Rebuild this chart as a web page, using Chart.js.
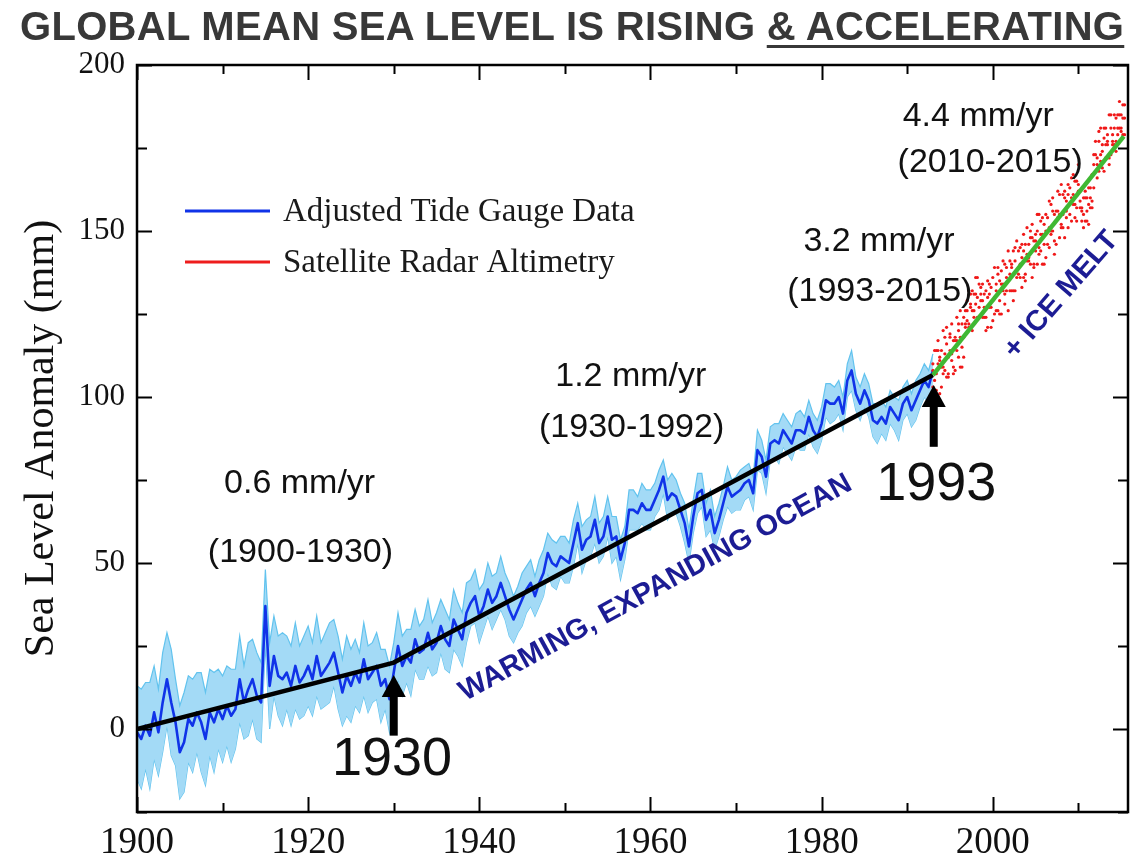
<!DOCTYPE html>
<html><head><meta charset="utf-8">
<script src="https://cdn.jsdelivr.net/npm/chart.js@4.4.1/dist/chart.umd.min.js"></script>
<style>
html,body{margin:0;padding:0;background:#fff;}
#wrap{position:relative;width:1132px;height:858px;overflow:hidden;}
#title{position:absolute;left:20px;top:6px;margin:0;font:bold 40px 'Liberation Sans',Arial,sans-serif;line-height:40px;letter-spacing:0.3px;color:#383838;white-space:nowrap;}
#title span{text-decoration:underline;text-decoration-thickness:3px;text-underline-offset:5px;}
canvas{position:absolute;left:0;top:0;}
</style></head>
<body><div id="wrap"><canvas id="c" width="1132" height="858"></canvas><h1 id="title">GLOBAL MEAN SEA LEVEL IS RISING <span>&amp; ACCELERATING</span></h1></div>
<script>
// ---------- DATA ----------
const tideYears = [
1900,1900.5,1901,1901.5,1902,1902.5,1903,1903.5,1904,1904.5,1905,1905.5,1906,1906.5,1907,1907.5,1908,1908.5,1909,1909.5,
1910,1910.5,1911,1911.5,1912,1912.5,1913,1913.5,1914,1914.5,1915,1915.5,1916,1916.5,1917,1917.5,1918,1918.5,1919,1919.5,
1920,1920.5,1921,1921.5,1922,1922.5,1923,1923.5,1924,1924.5,1925,1925.5,1926,1926.5,1927,1927.5,1928,1928.5,1929,1929.5,
1930,1930.5,1931,1931.5,1932,1932.5,1933,1933.5,1934,1934.5,1935,1935.5,1936,1936.5,1937,1937.5,1938,1938.5,1939,1939.5,
1940,1940.5,1941,1941.5,1942,1942.5,1943,1943.5,1944,1944.5,1945,1945.5,1946,1946.5,1947,1947.5,1948,1948.5,1949,1949.5,
1950,1950.5,1951,1951.5,1952,1952.5,1953,1953.5,1954,1954.5,1955,1955.5,1956,1956.5,1957,1957.5,1958,1958.5,1959,1959.5,
1960,1960.5,1961,1961.5,1962,1962.5,1963,1963.5,1964,1964.5,1965,1965.5,1966,1966.5,1967,1967.5,1968,1968.5,1969,1969.5,
1970,1970.5,1971,1971.5,1972,1972.5,1973,1973.5,1974,1974.5,1975,1975.5,1976,1976.5,1977,1977.5,1978,1978.5,1979,1979.5,
1980,1980.5,1981,1981.5,1982,1982.5,1983,1983.5,1984,1984.5,1985,1985.5,1986,1986.5,1987,1987.5,1988,1988.5,1989,1989.5,
1990,1990.5,1991,1991.5,1992,1992.5,1993];
const tideValues = [
-1,-3,1,-2,5,-1,8,15,8,2,-7,-4,3,1,5,2,-3,5,2,6,
3,7,4,6,15,8,12,15,10,8,37,13,22,16,15,17,13,19,14,16,
19,15,22,16,18,20,23,17,11,16,13,17,14,21,15,17,19,13,15,9,
17,25,19,22,20,27,23,24,29,24,26,31,27,25,33,30,27,35,38,40,
34,37,42,38,40,44,40,36,33,36,39,42,44,40,44,47,53,50,49,52,
51,50,56,62,54,57,58,63,56,58,64,57,58,51,56,66,66,65,68,66,
66,69,72,76,69,71,70,66,62,55,64,71,72,63,66,59,63,68,73,70,
71,72,74,75,71,84,82,76,86,87,86,90,88,86,90,90,89,94,90,88,
92,99,98,98,100,95,105,108,101,98,102,99,93,92,94,92,97,95,93,98,
100,96,99,102,105,103,108];
const tideUncertainty = [
14,15,13,16,14,13,15,14,16,13,14,15,13,14,12,15,14,13,15,12,
13,12,14,12,13,11,14,12,13,12,11,13,12,12,14,11,12,13,11,12,
12,11,12,10,11,12,10,11,10,12,11,10,9,11,10,9,10,11,9,10,
9,10,9,8,10,9,8,9,10,8,9,8,9,8,9,8,8,9,7,8,
8,7,8,8,7,8,7,8,7,7,8,7,7,6,7,7,6,7,7,6,
7,6,7,6,7,6,6,7,6,6,6,7,6,6,5,6,6,5,6,6,
6,5,6,5,6,6,5,5,6,5,5,6,5,5,6,5,5,5,6,5,
5,6,5,5,5,6,5,5,5,5,6,5,5,5,5,6,5,5,5,5,
5,5,6,5,5,5,5,6,5,5,5,5,5,6,5,5,5,5,6,5,
5,5,6,5,5,5,5];
const satYears = [
1993,1993.2,1993.4,1993.6,1993.8,1994,1994.2,1994.4,1994.6,1994.8,
1995,1995.2,1995.4,1995.6,1995.8,1996,1996.2,1996.4,1996.6,1996.8,
1997,1997.2,1997.4,1997.6,1997.8,1998,1998.2,1998.4,1998.6,1998.8,
1999,1999.2,1999.4,1999.6,1999.8,2000,2000.2,2000.4,2000.6,2000.8,
2001,2001.2,2001.4,2001.6,2001.8,2002,2002.2,2002.4,2002.6,2002.8,
2003,2003.2,2003.4,2003.6,2003.8,2004,2004.2,2004.4,2004.6,2004.8,
2005,2005.2,2005.4,2005.6,2005.8,2006,2006.2,2006.4,2006.6,2006.8,
2007,2007.2,2007.4,2007.6,2007.8,2008,2008.2,2008.4,2008.6,2008.8,
2009,2009.2,2009.4,2009.6,2009.8,2010,2010.2,2010.4,2010.6,2010.8,
2011,2011.2,2011.4,2011.6,2011.8,2012,2012.2,2012.4,2012.6,2012.8,
2013,2013.2,2013.4,2013.6,2013.8,2014,2014.2,2014.4,2014.6,2014.8,
2015,2015.2,2015.4];
const satValuesA = [
110,102,114,110,101,114,109,118,106,112,
118,111,107,117,124,112,118,109,124,122,
129,122,128,132,126,131,124,134,131,124,
124,132,121,131,121,136,130,126,137,125,
134,141,131,139,126,137,140,132,145,136,
139,145,133,144,137,151,142,148,136,147,
149,140,155,144,149,140,155,150,145,158,
150,155,146,162,155,151,161,148,159,164,
155,166,158,154,165,170,157,153,151,160,
156,152,160,159,170,173,166,177,171,176,
168,181,176,172,181,176,185,174,181,185,
181,184,179];
const satValuesB = [
103,114,107,114,111,103,120,108,116,106,
114,122,109,118,114,122,109,122,118,126,
123,132,127,120,131,128,136,127,133,129,
131,124,135,127,133,123,139,132,126,135,
125,134,140,132,144,132,139,144,132,138,
144,136,142,149,135,143,141,150,148,140,
144,155,143,149,154,146,142,154,151,149,
160,147,156,154,148,164,155,160,154,151,
163,160,167,158,157,164,162,156,160,153,
160,163,157,167,163,177,170,168,181,174,
178,172,177,185,173,177,181,177,185,181,
180,188,184];
const satValuesC = [
108,105,102,117,112,109,107,113,121,107,
119,113,117,108,117,120,126,115,112,121,
126,121,131,126,124,136,130,124,129,134,
127,120,130,134,127,129,125,134,139,129,
138,132,128,136,135,141,132,129,141,147,
137,140,146,136,146,141,146,140,152,139,
147,150,145,153,140,152,150,146,159,150,
156,143,153,156,161,152,151,162,156,161,
158,153,161,165,153,162,159,157,155,162,
153,158,163,157,173,168,172,180,173,169,
181,176,179,170,185,179,176,184,179,189,
185,179,188];
const trend1Years = [1900, 1930, 1993];
const trend1Values = [0, 20, 106.6];
const trend2Years = [1993, 2015.3];
const trend2Values = [106.6, 178.5];
const xTickYears = [1900,1910,1920,1930,1940,1950,1960,1970,1980,1990,2000,2010];
const xLabelYears = [1900,1920,1940,1960,1980,2000];
const yTickValues = [-25,0,25,50,75,100,125,150,175,200];
const yLabelValues = [0,50,100,150,200];
const seriesNames = ['Adjusted Tide Gauge Data','Satellite Radar Altimetry'];

// ---------- BUILD ----------
const pts = (xs, ys) => xs.map((v, i) => ({x: v, y: ys[i]}));
const tideUpper = tideValues.map((v, i) => v + tideUncertainty[i]);
const tideLower = tideValues.map((v, i) => v - tideUncertainty[i]);

const SERIF = "'Liberation Serif','Times New Roman',serif";
const SANS = "'Liberation Sans',Arial,sans-serif";

const annotations = [
  {t:'0.6 mm/yr', x:1919.0, y:73.8, size:34},
  {t:'(1900-1930)', x:1919.1, y:53.0, size:34},
  {t:'1.2 mm/yr', x:1957.7, y:106.0, size:34},
  {t:'(1930-1992)', x:1957.8, y:90.7, size:34},
  {t:'3.2 mm/yr', x:1986.7, y:146.7, size:34},
  {t:'(1993-2015)', x:1986.8, y:131.6, size:34},
  {t:'4.4 mm/yr', x:1998.3, y:184.6, size:34},
  {t:'(2010-2015)', x:1999.7, y:170.5, size:34},
  {t:'1930', x:1929.8, y:-9.3, size:54},
  {t:'1993', x:1993.4, y:73.5, size:54}
];
const arrows = [
  {x:1930, tip:16.3, tail:-2},
  {x:1993.1, tip:103.6, tail:85}
];
const rotated = [
  {t:'WARMING, EXPANDING OCEAN', x:1960.6, y:42.5, rot:-28.7, size:29},
  {t:'+ ICE MELT', x:2008.0, y:130.7, rot:-49, size:29}
];

const deco = {
  id: 'deco',
  afterDatasetsDraw(chart) {
    const {ctx, chartArea: a, scales: {x, y}} = chart;
    ctx.save();
    ctx.textAlign = 'center'; ctx.textBaseline = 'middle';
    annotations.forEach(o => {
      ctx.font = o.size + 'px ' + SANS; ctx.fillStyle = '#111';
      ctx.fillText(o.t, x.getPixelForValue(o.x), y.getPixelForValue(o.y));
    });
    rotated.forEach(o => {
      ctx.save();
      ctx.translate(x.getPixelForValue(o.x), y.getPixelForValue(o.y));
      ctx.rotate(o.rot * Math.PI / 180);
      ctx.font = 'bold ' + o.size + 'px ' + SANS; ctx.fillStyle = '#1c1c94';
      ctx.fillText(o.t, 0, 0);
      ctx.restore();
    });
    arrows.forEach(o => {
      const px = x.getPixelForValue(o.x), pt = y.getPixelForValue(o.tip), pb = y.getPixelForValue(o.tail);
      ctx.fillStyle = '#000';
      ctx.fillRect(px - 4, pt + 18, 8, pb - pt - 18);
      ctx.beginPath(); ctx.moveTo(px, pt); ctx.lineTo(px + 12, pt + 22); ctx.lineTo(px - 12, pt + 22); ctx.closePath(); ctx.fill();
    });
    // legend
    const lx = a.left + 48, ly1 = a.top + 146, ly2 = a.top + 197;
    ctx.lineWidth = 3;
    ctx.strokeStyle = '#1033e8'; ctx.beginPath(); ctx.moveTo(lx, ly1); ctx.lineTo(lx + 85, ly1); ctx.stroke();
    ctx.strokeStyle = '#ee1c1c'; ctx.beginPath(); ctx.moveTo(lx, ly2); ctx.lineTo(lx + 85, ly2); ctx.stroke();
    ctx.textAlign = 'left'; ctx.fillStyle = '#1a1a1a'; ctx.font = '33px ' + SERIF;
    ctx.fillText(seriesNames[0], lx + 98, ly1 + 1);
    ctx.fillText(seriesNames[1], lx + 98, ly2 + 1);
    ctx.restore();
  },
  afterDraw(chart) {
    const {ctx, chartArea: a, scales: {x, y}} = chart;
    ctx.save();
    ctx.strokeStyle = '#000';
    ctx.lineWidth = 2;
    xTickYears.forEach(v => {
      const px = Math.round(x.getPixelForValue(v)) + 0.5;
      const len = xLabelYears.includes(v) ? 15 : 9;
      ctx.beginPath(); ctx.moveTo(px, a.bottom); ctx.lineTo(px, a.bottom - len);
      ctx.moveTo(px, a.top); ctx.lineTo(px, a.top + len); ctx.stroke();
    });
    yTickValues.forEach(v => {
      const py = Math.round(y.getPixelForValue(v)) + 0.5;
      const len = yLabelValues.includes(v) ? 15 : 10;
      ctx.beginPath(); ctx.moveTo(a.left, py); ctx.lineTo(a.left + len, py);
      ctx.moveTo(a.right, py); ctx.lineTo(a.right - len, py); ctx.stroke();
    });
    ctx.lineWidth = 2.5;
    ctx.strokeRect(a.left, a.top, a.right - a.left, a.bottom - a.top);
    ctx.restore();
  }
};

const satStyle = {type:'scatter', backgroundColor:'#f01818', borderWidth:0, pointRadius:1.6, order:1};

new Chart(document.getElementById('c'), {
  type: 'line',
  data: {
    datasets: [
      {label:'trend2', data: pts(trend2Years, trend2Values), borderColor:'#3fb833', borderWidth:4.5, pointRadius:0, order:0},
      Object.assign({label:seriesNames[1]+' A', data: pts(satYears, satValuesA)}, satStyle),
      Object.assign({label:seriesNames[1]+' B', data: pts(satYears, satValuesB)}, satStyle),
      Object.assign({label:seriesNames[1]+' C', data: pts(satYears, satValuesC)}, satStyle),
      {label:'trend1', data: pts(trend1Years, trend1Values), borderColor:'#000', borderWidth:4.5, pointRadius:0, order:2},
      {label:seriesNames[0], data: pts(tideYears, tideValues), borderColor:'#1033e8', borderWidth:2.6, pointRadius:0, borderJoinStyle:'round', order:3},
      {label:'upper', data: pts(tideYears, tideUpper), borderColor:'#62c3ee', borderWidth:1.2, pointRadius:0, fill:'+1', backgroundColor:'#a3daf6', order:4},
      {label:'lower', data: pts(tideYears, tideLower), borderColor:'#62c3ee', borderWidth:1.2, pointRadius:0, fill:false, order:5}
    ]
  },
  options: {
    responsive: false,
    animation: false,
    events: [],
    layout: {padding: {top: 65, right: 1, left: 0, bottom: 0}},
    plugins: {legend: {display: false}, tooltip: {enabled: false}, title: {display: false}},
    scales: {
      x: {
        type: 'linear', min: 1900, max: 2015.8,
        grid: {display: false, drawTicks: false}, border: {display: false},
        ticks: {stepSize: 10, includeBounds: false, autoSkip: false, maxRotation: 0, padding: 9,
          color: '#111', font: {family: SERIF, size: 37},
          callback: v => xLabelYears.includes(v) ? String(v) : ''},
        afterFit: s => { s.height = 46; }
      },
      y: {
        type: 'linear', min: -25, max: 200,
        grid: {display: false, drawTicks: false}, border: {display: false},
        ticks: {stepSize: 25, includeBounds: false, autoSkip: false, padding: 12,
          color: '#111', font: {family: SERIF, size: 31},
          callback: v => yLabelValues.includes(v) ? String(v) : ''},
        title: {display: true, text: 'Sea Level Anomaly (mm)', color: '#111', font: {family: SERIF, size: 42}, padding: {top: 17, bottom: 0}},
        afterFit: s => { s.width = 137; }
      }
    }
  },
  plugins: [deco]
});
</script>
</body></html>
